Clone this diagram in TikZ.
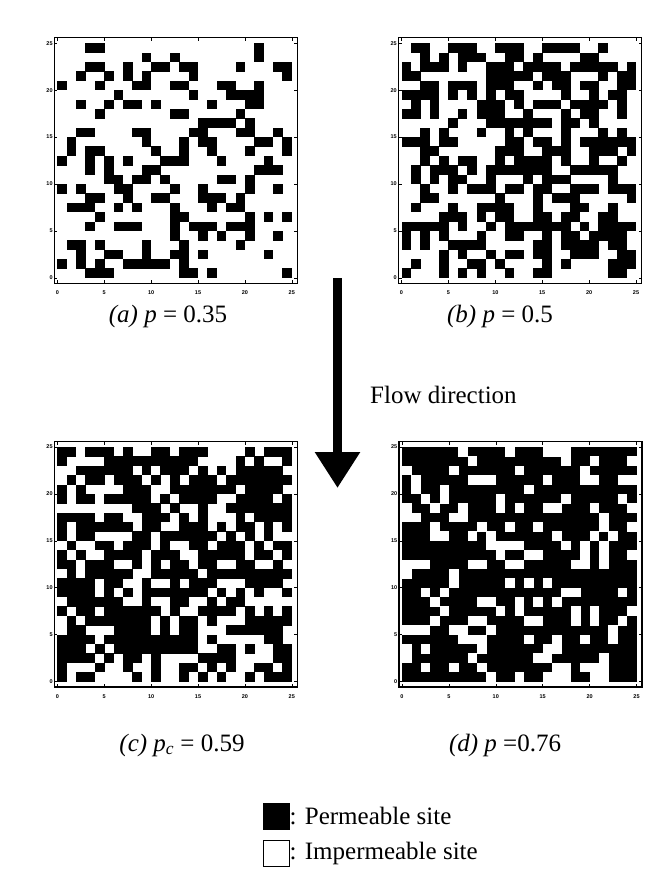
\documentclass[tikz,border=0pt]{standalone}
\usepackage{fontspec}
\setmainfont{Liberation Serif}
\newfontfamily\tickfont{Liberation Sans}
\usetikzlibrary{arrows.meta}
\def\cs{9.38}
\newcommand\gridaxes[1]{%
  \draw[gframe] (-3,-5.5) rectangle (240,240);
  \foreach \k in {0,...,5}{%
    \pgfmathsetmacro\pp{\k*5*\cs}%
    \pgfmathtruncatemacro\lab{\k*5}%
    \pgfmathsetmacro\qq{(5-\k)*5*\cs}%
    \draw[tickmark] (\pp,240) -- ++(0,-3);
    \draw[tickmark] (\pp,-5.5) -- ++(0,3);
    \draw[tickmark] (-3,\qq) -- ++(3,0);
    \draw[tickmark] (240,\qq) -- ++(-3,0);
    \node[tlabel, anchor=base] (#1-b\k) at (\pp,251) {\lab};
    \node[tlabel, anchor=east] (#1-l\k) at (-4,\qq) {\lab};
  }%
}
\newcommand\cellrows[2]{%
  \foreach \r/\cols in {#2}{\foreach \c in \cols {\fill[#1] (\c*\cs,\r*\cs) rectangle ++(\cs+0.3,\cs+0.3);}}%
}
\newcommand\randcells[1]{%
  \foreach \r in {1,...,23}{\foreach \c in {0,...,24}{%
    \pgfmathtruncatemacro\bb{rnd<#1}%
    \ifnum\bb=1 \fill[cell] (\c*\cs,\r*\cs) rectangle ++(\cs+0.3,\cs+0.3);\fi}}%
}
\begin{document}
\begin{tikzpicture}[x=1pt,y=-1pt,
  cell/.style={fill=black},
  wcell/.style={fill=white},
  gframe/.style={draw=black, line width=1.2pt},
  tickmark/.style={draw=black, line width=0.6pt},
  tlabel/.style={font=\tickfont\fontsize{5.5}{6}\selectfont\bfseries, inner sep=0.5pt},
  caption/.style={font=\fontsize{25}{29}\selectfont, inner sep=0pt},
  legbox/.style={draw=black, line width=0.8pt, minimum width=26pt, minimum height=26pt, inner sep=0pt},
]
\useasboundingbox[fill=white] (0,0) rectangle (659,885);

% (a) p = 0.35
\begin{scope}[shift={(57.3,43.3)}]
\cellrows{cell}{0/{3,4,21},1/{9,12,21},2/{3,4,7,10,11,13,14,19,23,24},3/{2,5,7,9,14,24},
4/{0,4,8,9,12,13,17,18,21},5/{6,14,18,19,20,21},6/{2,5,7,8,10,16,20,21},7/{4,12,13,19},
8/{15,16,17,18,20},9/{2,3,8,9,14,15,19,20,23},10/{1,9,13,15,16,21,22,24},11/{1,3,4,10,13,16,20,24},
12/{0,3,5,7,11,12,13,17,22},13/{3,5,9,10,21,22,23},14/{5,6,8,9,11,17,18,20},15/{0,2,6,7,12,15,20,23},
16/{3,4,7,10,11,15,16,17,19},17/{1,2,3,6,8,12,16,18,19},18/{4,12,13,20,22,24},19/{3,6,7,8,12,14,15,16,18,19,20},
20/{12,15,17,20,23},21/{1,2,4,9,13,19},22/{2,5,6,9,12,13,15,22},23/{0,2,4,7,8,9,10,11,13},24/{3,4,5,13,14,16,24}}
\gridaxes{ga}
\end{scope}

% (b) p = 0.5
\pgfmathsetseed{11}
\begin{scope}[shift={(401.5,43.3)}]
\cellrows{cell}{0/{1,2,5,6,7,10,11,12,15,16,17,18,21},24/{0,4,6,8,11,14,15,22,23}}
\randcells{0.5}
\gridaxes{gb}
\end{scope}

% (c) pc = 0.59
\begin{scope}[shift={(57.3,447)}]
\cellrows{cell}{0/{0,1,3,4,5,7,10,11,13,14,15,20,22,23,24},24/{0,2,3,8,10,13,15,17,20,22,23,24}}
\randcells{0.59}
\gridaxes{gc}
\end{scope}

% (d) p = 0.76 (white cells on black)
\begin{scope}[shift={(402,447)}]
\fill[cell] (0,0) rectangle (25*\cs,25*\cs);
\cellrows{wcell}{0/{6,11,15,16,17},1/{7,17,20,24},2/{0,5,12,19},3/{1,7,8,9,15,19,20,23,24},
4/{1,4,13},5/{2,4,10,17,23},6/{0,3,6,10,12,15,16,20,24},7/{0,1,5,6,21},8/{3,8,11,14,21,24},
9/{3,4,7,9,16,20,22},10/{9,10,11,12,17,19,21},11/{10,13,14,19,21,24},12/{0,1,2,7,8,11,12,18,19,21},
13/{0,5},14/{5,11,13,15},15/{2,4,17,18,23},16/{3,8,9,12,14,16},17/{4,10,12,18,20,24},
18/{3,7,8,13,14,18,20,23},19/{0,1,2,5,6,9,22},20/{6,7,8,13,16,19,22},21/{0,2,8,15,16},
22/{0,7,14,15,21},23/{2,5,8,16,17,19,20,21},24/{9,12,15,16,17,20,21}}
\gridaxes{gd}
\end{scope}

% captions
\node[caption] (capa) at (168,316) {\textit{(a) p} = 0.35};
\node[caption] (capb) at (500,316) {\textit{(b) p} = 0.5};
\node[caption] (capc) at (182,745) {\textit{(c) p}\textsubscript{\textit{c}} = 0.59};
\node[caption] (capd) at (505,745) {\textit{(d) p} =0.76};

% flow arrow
\coordinate (arrtop) at (337.5,278);
\coordinate (arrtip) at (337.5,488);
\draw[line width=9pt, -{Triangle[width=43pt,length=36pt]}] (arrtop) -- (arrtip);
\node[caption, anchor=west] (flow) at (370,395) {Flow direction};

% legend
\node[legbox, fill=black] (lperm) at (276,816) {};
\node[caption, anchor=west] (tperm) at (lperm.east) {: Permeable site};
\node[legbox, fill=white] (limp) at (276,853) {};
\node[caption, anchor=west] (timp) at (limp.east) {: Impermeable site};
\end{tikzpicture}
\end{document}
